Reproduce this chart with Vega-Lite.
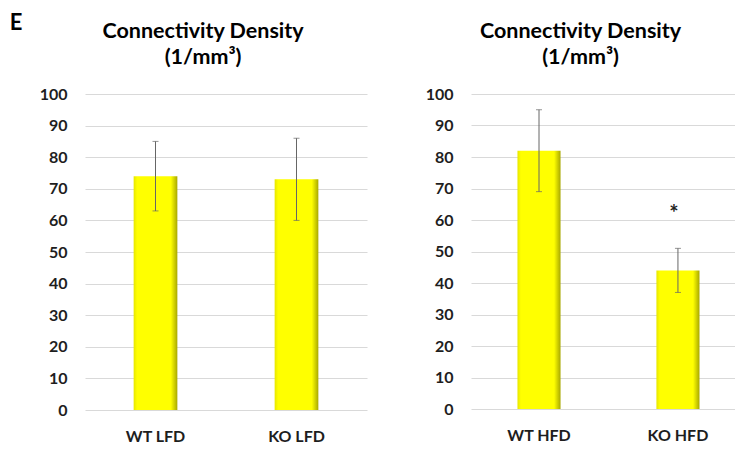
{
  "$schema": "https://vega.github.io/schema/vega-lite/v6.json",
  "background": "white",
  "padding": {"left": 9, "top": 11, "right": 0, "bottom": 0},
  "title": {"text": "E", "orient": "left", "angle": 0, "anchor": "end", "baseline": "top", "fontSize": 22, "font": "Lato", "fontWeight": "bold", "color": "#000", "offset": 4, "dy": -8},
  "datasets": {
    "lfd": [
      {"group": "WT LFD", "mean": 74, "lo": 63, "hi": 85},
      {"group": "KO LFD", "mean": 73, "lo": 60, "hi": 86}
    ],
    "hfd": [
      {"group": "WT HFD", "mean": 82, "lo": 69, "hi": 95},
      {"group": "KO HFD", "mean": 44, "lo": 37, "hi": 51, "sig": "*"}
    ]
  },
  "spacing": 58,
  "hconcat": [
    {
      "data": {"name": "lfd"},
      "width": 282,
      "height": 316,
      "title": {"text": ["Connectivity Density", "(1/mm³)"]},
      "encoding": {
        "x": {"field": "group", "type": "nominal", "sort": null, "scale": {"paddingInner": 0.69, "paddingOuter": 0.345}, "axis": {"title": null}},
        "y": {"field": "mean", "type": "quantitative", "scale": {"domain": [0, 100]}, "axis": {"title": null, "values": [0,10,20,30,40,50,60,70,80,90,100]}}
      },
      "layer": [
        {"mark": {"type": "bar", "color": {"gradient": "linear", "x1": 0, "x2": 1, "y1": 0, "y2": 0, "stops": [{"offset": 0, "color": "#e6e600"}, {"offset": 0.08, "color": "#ffff00"}, {"offset": 0.85, "color": "#ffff00"}, {"offset": 1, "color": "#a8a800"}]}}},
        {"mark": {"type": "rule", "color": "#666666", "strokeWidth": 1},
          "encoding": {"y": {"field": "lo", "type": "quantitative", "axis": {"title": null, "values": [0,10,20,30,40,50,60,70,80,90,100]}}, "y2": {"field": "hi"}}},
        {"mark": {"type": "tick", "color": "#666666", "size": 6, "thickness": 1},
          "encoding": {"y": {"field": "lo", "type": "quantitative", "axis": {"title": null, "values": [0,10,20,30,40,50,60,70,80,90,100]}}}},
        {"mark": {"type": "tick", "color": "#666666", "size": 6, "thickness": 1},
          "encoding": {"y": {"field": "hi", "type": "quantitative", "axis": {"title": null, "values": [0,10,20,30,40,50,60,70,80,90,100]}}}}
      ]
    },
    {
      "data": {"name": "hfd"},
      "width": 265,
      "height": 315,
      "title": {"text": ["Connectivity Density", "(1/mm³)"]},
      "encoding": {
        "x": {"field": "group", "type": "nominal", "sort": null, "scale": {"paddingInner": 0.69, "paddingOuter": 0.2986, "align": 0.56}, "axis": {"title": null}},
        "y": {"field": "mean", "type": "quantitative", "scale": {"domain": [0, 100]}, "axis": {"title": null, "values": [0,10,20,30,40,50,60,70,80,90,100]}}
      },
      "layer": [
        {"mark": {"type": "bar", "color": {"gradient": "linear", "x1": 0, "x2": 1, "y1": 0, "y2": 0, "stops": [{"offset": 0, "color": "#e6e600"}, {"offset": 0.08, "color": "#ffff00"}, {"offset": 0.85, "color": "#ffff00"}, {"offset": 1, "color": "#a8a800"}]}}},
        {"mark": {"type": "rule", "color": "#666666", "strokeWidth": 1},
          "encoding": {"y": {"field": "lo", "type": "quantitative", "axis": {"title": null, "values": [0,10,20,30,40,50,60,70,80,90,100]}}, "y2": {"field": "hi"}}},
        {"mark": {"type": "tick", "color": "#666666", "size": 6, "thickness": 1},
          "encoding": {"y": {"field": "lo", "type": "quantitative", "axis": {"title": null, "values": [0,10,20,30,40,50,60,70,80,90,100]}}}},
        {"mark": {"type": "tick", "color": "#666666", "size": 6, "thickness": 1},
          "encoding": {"y": {"field": "hi", "type": "quantitative", "axis": {"title": null, "values": [0,10,20,30,40,50,60,70,80,90,100]}}}},
        {"transform": [{"filter": "isValid(datum.sig)"}],
          "mark": {"type": "text", "font": "Lato", "fontSize": 22, "fontWeight": "bold", "color": "#222222", "baseline": "middle", "dy": -34, "dx": -4},
          "encoding": {"y": {"field": "hi", "type": "quantitative", "axis": {"title": null, "values": [0,10,20,30,40,50,60,70,80,90,100]}}, "text": {"field": "sig"}}}
      ]
    }
  ],
  "config": {
    "view": {"stroke": null},
    "title": {"font": "Lato", "fontSize": 21.5, "fontWeight": "bold", "color": "#000000", "lineHeight": 26, "offset": 18, "frame": "bounds"},
    "axis": {"labelFont": "Lato", "labelFontWeight": "bold", "labelColor": "#1e1e1e", "domain": false, "ticks": false},
    "axisY": {"grid": true, "gridColor": "#d9d9d9", "labelFontSize": 16, "labelPadding": 18},
    "axisX": {"grid": false, "labelAngle": 0, "labelFontSize": 16, "labelPadding": 18}
  }
}
